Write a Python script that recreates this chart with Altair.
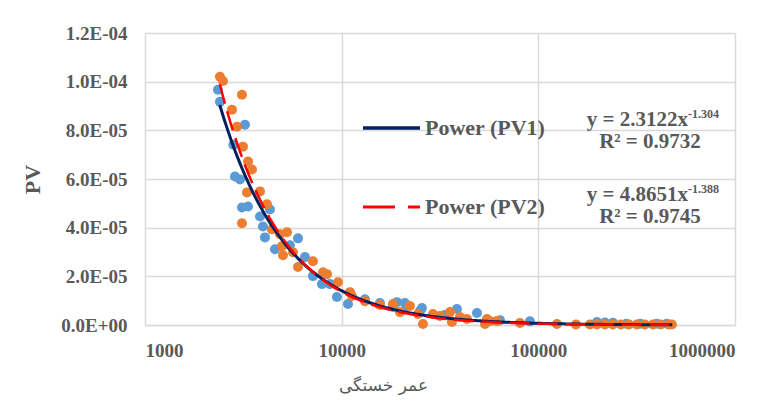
import math
import altair as alt
import pandas as pd

# ---------------- data ----------------
pv1_x = [2350, 2405, 3223, 2815, 2868, 3041, 3112, 3340, 3843, 4319, 4074, 3980, 4580,
         5458, 5998, 6508, 7145, 7940, 8717, 9460, 10770, 13135, 15650, 18230, 19100,
         20980, 21480, 25000, 25600, 33500, 38550, 48750, 63800, 90600, 198600, 218100,
         239400, 280000, 330000, 400000, 450000]
pv1_y = [9.67e-5, 9.17e-5, 8.23e-5, 7.41e-5, 6.10e-5, 5.98e-5, 4.83e-5, 4.87e-5, 4.46e-5,
         4.75e-5, 3.60e-5, 4.05e-5, 3.11e-5, 3.28e-5, 3.56e-5, 2.79e-5, 2.01e-5, 1.68e-5,
         1.68e-5, 1.15e-5, 8.6e-6, 1.06e-5, 9.0e-6, 7.4e-6, 9.4e-6, 9.0e-6, 7.8e-6, 5.7e-6,
         7.0e-6, 4.1e-6, 6.6e-6, 4.9e-6, 2.0e-6, 1.5e-6, 1.2e-6, 1.0e-6, 9e-7, 5e-7, 5e-7,
         5e-7, 5e-7]

pv2_x = [2405, 2492, 2768, 3112, 2936, 3148, 3340, 3499, 3301, 3843, 4169, 3112, 4421,
         5272, 4856, 4971, 5030, 5653, 5998, 7145, 8035, 8420, 9575, 11020, 11280, 13135,
         15650, 18230, 19780, 22240, 24430, 25900, 29130, 31600, 35530, 36370, 39940,
         43350, 53530, 54800, 56750, 61570, 80600, 124300, 155300, 182900, 198600, 218100,
         239400, 263000, 288800, 317000, 348300, 382400, 419900, 461300, 477700]
pv2_y = [1.02e-4, 1.003e-4, 8.85e-5, 9.46e-5, 8.15e-5, 7.33e-5, 6.72e-5, 6.39e-5, 5.45e-5,
         5.49e-5, 4.96e-5, 4.18e-5, 3.93e-5, 3.81e-5, 3.73e-5, 3.24e-5, 2.87e-5, 2.99e-5,
         2.38e-5, 2.62e-5, 2.17e-5, 2.09e-5, 1.76e-5, 1.35e-5, 1.19e-5, 9.8e-6, 8.2e-6,
         8.6e-6, 5.3e-6, 7.8e-6, 4.5e-6, 4e-7, 4.5e-6, 3.7e-6, 5.3e-6, 1.2e-6, 3.3e-6,
         2.5e-6, 4e-7, 2.5e-6, 1.6e-6, 1.6e-6, 8e-7, 4e-7, 2e-7, 2e-7, 2e-7, 2e-7, 2e-7,
         2e-7, 2e-7, 2e-7, 2e-7, 2e-7, 2e-7, 2e-7, 2e-7]

series_names = ["PV1", "PV2"]
point_colors = ["#5B9BD5", "#ED7D31"]
line_colors = ["#002060", "#FF0000"]
coef_a = [2.3122, 4.8651]
coef_b = [-1.304, -1.388]
r_squared = [0.9732, 0.9745]
trend_x_range = [2400, 480000]

x_ticks = [1000, 10000, 100000, 1000000]
y_ticks = [0, 2e-5, 4e-5, 6e-5, 8e-5, 1e-4, 1.2e-4]
x_title = "عمر خستگی"
y_title = "PV"
legend_labels = ["Power (PV1)", "Power (PV2)"]

# ---------------- chart ----------------
SERIF = "Liberation Serif"
GRAY = "#595959"
GRID = "#D9D9D9"
W, H = 590, 292

points = pd.DataFrame({
    "x": pv1_x + pv2_x,
    "y": pv1_y + pv2_y,
    "series": [series_names[0]] * len(pv1_x) + [series_names[1]] * len(pv2_x),
})

xscale = alt.Scale(type="log", domain=[x_ticks[0], x_ticks[-1]], nice=False)
yscale = alt.Scale(domain=[y_ticks[0], y_ticks[-1]], nice=False, zero=True)

xaxis = alt.Axis(values=x_ticks, format="d", title=x_title, grid=True, gridColor=GRID,
                 gridWidth=1.5, domain=True, domainColor=GRID, domainWidth=1.5,
                 ticks=False, tickSize=0, labelPadding=16, labelFont=SERIF,
                 labelFontWeight="bold", labelFontSize=19, labelColor=GRAY,
                 titleFont="DejaVu Sans", titleFontWeight="normal", titleFontSize=17,
                 titleColor=GRAY, titleX=238, titleY=60, titleAlign="center",
                 titleBaseline="middle")
yaxis = alt.Axis(values=y_ticks,
                 labelExpr="replace(replace(format(datum.value, '.1e'), 'e-', 'E-0'), 'e+', 'E+0')",
                 title=y_title, grid=True, gridColor=GRID, gridWidth=1.5, domain=False,
                 ticks=False, tickSize=0, labelPadding=18, labelFont=SERIF,
                 labelFontWeight="bold", labelFontSize=19, labelColor=GRAY,
                 titleFont=SERIF, titleFontWeight="bold", titleFontSize=22,
                 titleColor=GRAY, titleX=-113, titleY=146, titleAngle=270,
                 titleAlign="center", titleBaseline="middle")

X = alt.X("x:Q", scale=xscale, axis=xaxis)
Y = alt.Y("y:Q", scale=yscale, axis=yaxis)

scatter = alt.Chart(points).mark_circle(size=100, opacity=1).encode(
    x=X, y=Y,
    color=alt.Color("series:N", scale=alt.Scale(domain=series_names, range=point_colors),
                    legend=None),
)

l0 = math.log(trend_x_range[0])
l1 = math.log(trend_x_range[1])
dashes = [None, [20, 8]]
trend_layers = []
for i in range(2):
    mk = dict(color=line_colors[i], strokeWidth=3 if i == 0 else 2.5)
    if dashes[i]:
        mk["strokeDash"] = dashes[i]
    trend_layers.append(
        alt.Chart(alt.sequence(0, 1.0001, 0.005, as_="t"))
        .transform_calculate(x=f"exp({l0} + datum.t * ({l1 - l0}))")
        .transform_calculate(y=f"{coef_a[i]} * pow(datum.x, {coef_b[i]})")
        .mark_line(**mk)
        .encode(x=X, y=Y)
    )

one = alt.Data(values=[{"k": 1}])
legend_y = [95, 174]
eq_y = [87, 162]
r2_y = [109, 184]
annot = []
for i in range(2):
    rk = dict(color=line_colors[i], strokeWidth=3.5 if i == 0 else 3)
    if i == 1:
        rk["strokeDash"] = [32, 13]
    annot.append(alt.Chart(one).mark_rule(**rk).encode(
        x=alt.value(218), x2=alt.value(275), y=alt.value(legend_y[i])))
    annot.append(alt.Chart(one).mark_text(
        align="left", baseline="middle", font=SERIF, fontWeight="bold",
        fontSize=22, color=GRAY).encode(
        x=alt.value(280), y=alt.value(legend_y[i]), text=alt.value(legend_labels[i])))
    annot.append(alt.Chart(one).mark_text(
        align="right", baseline="middle", font=SERIF, fontWeight="bold",
        fontSize=21, color=GRAY).encode(
        x=alt.value(543), y=alt.value(eq_y[i]),
        text=alt.value(f"y = {coef_a[i]:.4f}x")))
    annot.append(alt.Chart(one).mark_text(
        align="left", baseline="middle", font=SERIF, fontWeight="bold",
        fontSize=12, color=GRAY).encode(
        x=alt.value(543), y=alt.value(eq_y[i] - 6),
        text=alt.value(f"{coef_b[i]:.3f}")))
    annot.append(alt.Chart(one).mark_text(
        align="center", baseline="middle", font=SERIF, fontWeight="bold",
        fontSize=21, color=GRAY).encode(
        x=alt.value(505), y=alt.value(r2_y[i]),
        text=alt.value(f"R² = {r_squared[i]:.4f}")))

chart = alt.layer(scatter, *trend_layers, *annot).properties(
    width=W, height=H,
    autosize=alt.AutoSizeParams(type="none"),
    padding={"left": 137, "top": 25, "right": 38, "bottom": 72},
    background="white",
).configure_view(strokeWidth=0)

chart.save("out.html", embed_options={"renderer": "svg", "actions": False})
